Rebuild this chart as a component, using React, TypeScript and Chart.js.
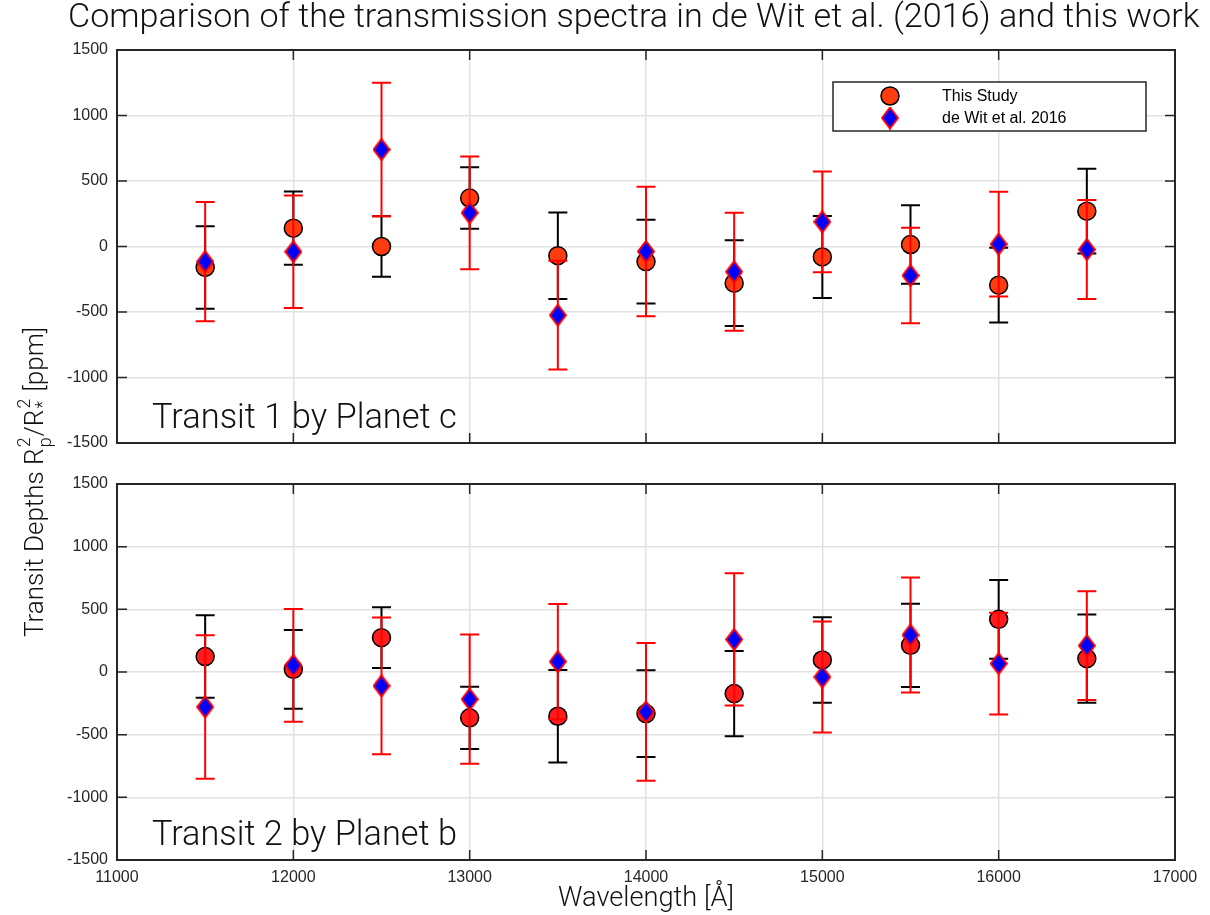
import React, { useEffect, useRef } from "react";
import { Chart, registerables } from "chart.js";
Chart.register(...registerables);

// ---------- data ----------
const wavelengths = [11500, 12000, 12500, 13000, 13500, 14000, 14500, 15000, 15500, 16000, 16500];

const transit1Study = [-160, 140, 0, 370, -70, -115, -280, -80, 15, -295, 270];
const transit1StudyErr = [315, 280, 230, 235, 330, 320, 327, 313, 300, 285, 323];
const transit1DeWit = [-115, -40, 740, 257, -524, -38, -193, 188, -221, 18, -23];
const transit1DeWitErr = [455, 430, 510, 430, 415, 494, 450, 384, 364, 400, 378];

const transit2Study = [123, 21, 274, -366, -353, -332, -172, 96, 213, 420, 107];
const transit2StudyErr = [329, 314, 243, 249, 369, 346, 340, 341, 332, 315, 352];
const transit2DeWit = [-279, 53, -111, -217, 83, -318, 260, -40, 295, 67, 210];
const transit2DeWitErr = [573, 450, 545, 516, 460, 550, 528, 443, 458, 406, 434];

const xTickValues = [11000, 12000, 13000, 14000, 15000, 16000, 17000];
const yTickValues = [-1500, -1000, -500, 0, 500, 1000, 1500];

const titleText = "Comparison of the transmission spectra in de Wit et al. (2016) and this work";
const panelLabels = ["Transit 1 by Planet c", "Transit 2 by Planet b"];
const seriesNames = ["This Study", "de Wit et al. 2016"];
const xTitleText = "Wavelength [Å]";

// ---------- style ----------
const W = 1210;
const H = 915;
const AX = "#262626";
const GRID = "#e2e2e2";
const CIRCLE_TOP = "#ff3c10";
const CIRCLE_BOTTOM = "#ff1c1c";
const DIAMOND_FILL = "#0000ff";
const DIAMOND_EDGE = "#ff0000";
const LIGHT = "Roboto, 'Liberation Sans', sans-serif";
const TICKFONT = "'Liberation Sans', Arial, sans-serif";

function makeDiamond(w: number, h: number) {
  const c = document.createElement("canvas");
  c.width = w;
  c.height = h;
  const g = c.getContext("2d")!;
  const lw = 2;
  g.beginPath();
  g.moveTo(w / 2, lw / 2);
  g.lineTo(w - lw / 2, h / 2);
  g.lineTo(w / 2, h - lw / 2);
  g.lineTo(lw / 2, h / 2);
  g.closePath();
  g.fillStyle = DIAMOND_FILL;
  g.fill();
  g.lineWidth = lw;
  g.strokeStyle = DIAMOND_EDGE;
  g.stroke();
  return c;
}

function fitFont(ctx: CanvasRenderingContext2D, text: string, weight: string, family: string, target: number) {
  ctx.font = `${weight} 20px ${family}`;
  const w = ctx.measureText(text).width;
  return (20 * target) / w;
}

const errorBarPlugin = {
  id: "errbars",
  beforeDatasetDraw(chart: any, args: any) {
    const ds: any = chart.data.datasets[args.index];
    if (!ds.errors) return;
    const { ctx, scales } = chart;
    const x = scales.x;
    const y = scales.y;
    ctx.save();
    ctx.strokeStyle = ds.errorColor;
    ctx.lineWidth = 2;
    ds.data.forEach((p: any, i: number) => {
      const e = ds.errors[i];
      const px = x.getPixelForValue(p.x);
      const yt = y.getPixelForValue(p.y + e);
      const yb = y.getPixelForValue(p.y - e);
      ctx.beginPath();
      ctx.moveTo(px, yt);
      ctx.lineTo(px, yb);
      ctx.moveTo(px - 9.5, yt);
      ctx.lineTo(px + 9.5, yt);
      ctx.moveTo(px - 9.5, yb);
      ctx.lineTo(px + 9.5, yb);
      ctx.stroke();
    });
    ctx.restore();
  },
};

function drawYLabel(ctx: CanvasRenderingContext2D) {
  const p1 = "Transit Depths R", p2 = "/R", p3 = " [ppm]";
  const measure = (base: number) => {
    const sc = base * 0.68;
    ctx.font = `300 ${base}px ${LIGHT}`;
    const w1 = ctx.measureText(p1).width, w2 = ctx.measureText(p2).width, w3 = ctx.measureText(p3).width;
    ctx.font = `300 ${sc}px ${LIGHT}`;
    const s1 = Math.max(ctx.measureText("2").width, ctx.measureText("p").width) + 2;
    const s2 = Math.max(ctx.measureText("2").width, ctx.measureText("*").width) + 2;
    return { sc, w1, w2, w3, s1, s2, total: w1 + s1 + w2 + s2 + w3 };
  };
  const m0 = measure(22);
  const base = (22 * 311) / m0.total;
  const m = measure(base);
  ctx.save();
  ctx.fillStyle = "#111";
  ctx.textAlign = "left";
  ctx.textBaseline = "alphabetic";
  ctx.translate(43, 482);
  ctx.rotate(-Math.PI / 2);
  let cx = -m.total / 2;
  ctx.font = `300 ${base}px ${LIGHT}`;
  ctx.fillText(p1, cx, 0);
  cx += m.w1;
  ctx.font = `300 ${m.sc}px ${LIGHT}`;
  ctx.fillText("2", cx + 1, -base * 0.48);
  ctx.fillText("p", cx + 1, base * 0.3);
  cx += m.s1;
  ctx.font = `300 ${base}px ${LIGHT}`;
  ctx.fillText(p2, cx, 0);
  cx += m.w2;
  ctx.font = `300 ${m.sc}px ${LIGHT}`;
  ctx.fillText("2", cx + 1, -base * 0.48);
  ctx.fillText("*", cx + 1, base * 0.2);
  cx += m.s2;
  ctx.font = `300 ${base}px ${LIGHT}`;
  ctx.fillText(p3, cx, 0);
  ctx.restore();
}

function framePlugin(panel: number, diamond: HTMLCanvasElement) {
  return {
    id: "frame" + panel,
    afterDraw(chart: any) {
      const { ctx, chartArea: a, scales } = chart;
      const x = scales.x;
      const y = scales.y;
      ctx.save();
      ctx.strokeStyle = AX;
      ctx.lineWidth = 1.5;
      // ticks inward
      const tl = 10;
      ctx.beginPath();
      xTickValues.forEach((v) => {
        const px = x.getPixelForValue(v);
        ctx.moveTo(px, a.bottom);
        ctx.lineTo(px, a.bottom - tl);
        ctx.moveTo(px, a.top);
        ctx.lineTo(px, a.top + tl);
      });
      yTickValues.forEach((v) => {
        const py = y.getPixelForValue(v);
        ctx.moveTo(a.left, py);
        ctx.lineTo(a.left + tl, py);
        ctx.moveTo(a.right, py);
        ctx.lineTo(a.right - tl, py);
      });
      ctx.stroke();
      ctx.lineWidth = 2;
      ctx.strokeRect(a.left, a.top, a.right - a.left, a.bottom - a.top);

      // panel label
      ctx.fillStyle = "#111";
      const lbl = panelLabels[panel];
      const fs = fitFont(ctx, lbl, "300", LIGHT, 305);
      ctx.font = `300 ${fs}px ${LIGHT}`;
      ctx.textAlign = "left";
      ctx.textBaseline = "alphabetic";
      ctx.fillText(lbl, a.left + 35, a.bottom - 15);

      if (panel === 0) {
        // legend
        const lx = 833, ly = 82, lw = 313, lh = 49;
        ctx.fillStyle = "#fff";
        ctx.fillRect(lx, ly, lw, lh);
        ctx.strokeStyle = AX;
        ctx.lineWidth = 1.5;
        ctx.strokeRect(lx, ly, lw, lh);
        ctx.beginPath();
        ctx.arc(890, 96, 9, 0, Math.PI * 2);
        ctx.fillStyle = CIRCLE_TOP;
        ctx.fill();
        ctx.strokeStyle = "#000";
        ctx.lineWidth = 1.5;
        ctx.stroke();
        ctx.drawImage(diamond, 890 - diamond.width / 2, 118 - diamond.height / 2);
        ctx.fillStyle = "#000";
        ctx.font = `16px ${TICKFONT}`;
        ctx.textBaseline = "middle";
        ctx.fillText(seriesNames[0], 942, 97);
        ctx.fillText(seriesNames[1], 942, 119);

        // title
        const tfs = fitFont(ctx, titleText, "300", LIGHT, 1132);
        ctx.font = `300 ${tfs}px ${LIGHT}`;
        ctx.fillStyle = "#111";
        ctx.textAlign = "left";
        ctx.textBaseline = "alphabetic";
        ctx.fillText(titleText, 68, 27);

        drawYLabel(ctx);
      } else {
        const xfs = fitFont(ctx, xTitleText, "300", LIGHT, 176);
        ctx.font = `300 ${xfs}px ${LIGHT}`;
        ctx.fillStyle = "#111";
        ctx.textAlign = "center";
        ctx.textBaseline = "alphabetic";
        ctx.fillText(xTitleText, (a.left + a.right) / 2, 906);
      }
      ctx.restore();
    },
  };
}

function makeConfig(panel: number, diamond: HTMLCanvasElement): any {
  const study = panel === 0 ? transit1Study : transit2Study;
  const studyErr = panel === 0 ? transit1StudyErr : transit2StudyErr;
  const dewit = panel === 0 ? transit1DeWit : transit2DeWit;
  const dewitErr = panel === 0 ? transit1DeWitErr : transit2DeWitErr;
  const isBottom = panel === 1;
  const edgeGrid = (edges: number[]) => (c: any) =>
    c.tick && edges.includes(c.tick.value) ? "rgba(0,0,0,0)" : GRID;
  return {
    type: "scatter",
    data: {
      datasets: [
        {
          label: seriesNames[0],
          order: 2,
          data: wavelengths.map((w, i) => ({ x: w, y: study[i] })),
          errors: studyErr,
          errorColor: "#000000",
          pointStyle: "circle",
          pointRadius: 9,
          pointBackgroundColor: isBottom ? CIRCLE_BOTTOM : CIRCLE_TOP,
          pointBorderColor: "#000000",
          pointBorderWidth: 1.5,
          showLine: false,
        },
        {
          label: seriesNames[1],
          order: 1,
          data: wavelengths.map((w, i) => ({ x: w, y: dewit[i] })),
          errors: dewitErr,
          errorColor: "#ff0000",
          pointStyle: diamond,
          pointRadius: 10,
          showLine: false,
        },
      ],
    },
    options: {
      animation: false,
      responsive: false,
      devicePixelRatio: 1,
      layout: {
        padding: isBottom
          ? { left: 57, right: 35, top: 484, bottom: 0 }
          : { left: 57, right: 35, top: 50, bottom: 472 },
      },
      plugins: { legend: { display: false }, tooltip: { enabled: false }, title: { display: false } },
      scales: {
        x: {
          type: "linear",
          min: 11000,
          max: 17000,
          afterBuildTicks: (s: any) => {
            s.ticks = xTickValues.map((v) => ({ value: v }));
          },
          afterFit: (s: any) => {
            s.height = isBottom ? 55 : 0;
          },
          grid: { color: edgeGrid([11000, 17000]), lineWidth: 1.5, drawTicks: false },
          border: { display: false },
          ticks: {
            display: isBottom,
            padding: 8,
            autoSkip: false,
            maxRotation: 0,
            color: AX,
            font: { family: TICKFONT, size: 16 },
            callback: (v: any) => String(v),
          },
        },
        y: {
          type: "linear",
          min: -1500,
          max: 1500,
          afterBuildTicks: (s: any) => {
            s.ticks = yTickValues.map((v) => ({ value: v }));
          },
          afterFit: (s: any) => {
            s.width = 60;
          },
          grid: { color: edgeGrid([-1500, 1500]), lineWidth: 1.5, drawTicks: false },
          border: { display: false },
          ticks: {
            padding: 9,
            color: AX,
            font: { family: TICKFONT, size: 16 },
            callback: (v: any) => String(v),
          },
        },
      },
    },
    plugins: [errorBarPlugin, framePlugin(panel, diamond)],
  };
}

export default function App() {
  const topRef = useRef<HTMLCanvasElement>(null);
  const botRef = useRef<HTMLCanvasElement>(null);
  useEffect(() => {
    const diamond = makeDiamond(18, 23);
    const c1 = new Chart(topRef.current!, makeConfig(0, diamond));
    const c2 = new Chart(botRef.current!, makeConfig(1, diamond));
    return () => {
      c1.destroy();
      c2.destroy();
    };
  }, []);
  const cs: React.CSSProperties = { position: "absolute", left: 0, top: 0, width: W, height: H };
  return (
    <div style={{ position: "fixed", left: 0, top: 0, width: W, height: H, background: "#fff" }}>
      <canvas ref={topRef} width={W} height={H} style={cs} />
      <canvas ref={botRef} width={W} height={H} style={cs} />
    </div>
  );
}
